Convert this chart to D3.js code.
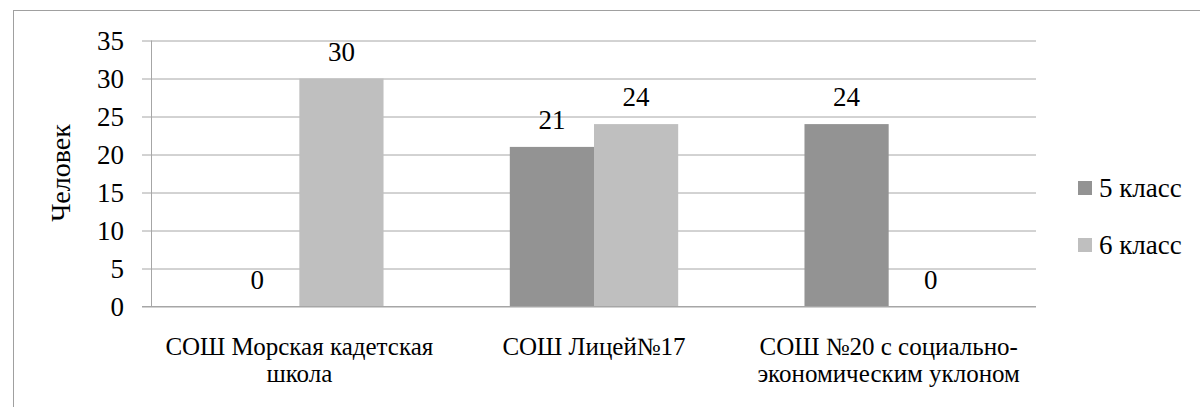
<!DOCTYPE html>
<html>
<head>
<meta charset="utf-8">
<script src="https://d3js.org/d3.v7.min.js"></script>
</head>
<body style="margin:0">
<svg id="chart" width="1200" height="407"></svg>
<script>
// Schools (line breaks mark how each label wraps)
const categories = [
  "СОШ Морская кадетская\nшкола",
  "СОШ Лицей№17",
  "СОШ №20 с  социально-\nэкономическим уклоном"
];
const seriesNames = ["5 класс", "6 класс"];
const grade5 = [0, 21, 24];
const grade6 = [30, 24, 0];
const yTicks = [0, 5, 10, 15, 20, 25, 30, 35];
const seriesColors = ["#939393", "#bfbfbf"];

const svg = d3.select("#chart");
const W = 1200, H = 407;

function styleText(sel, size) {
  return sel
    .style("font-family", "Tinos, 'Liberation Serif', FreeSerif, 'DejaVu Serif'")
    .style("font-size", size + "px")
    .attr("fill", "#000");
}

// Chart frame (runs off the right and bottom edges)
svg.append("rect")
  .attr("x", 13.5).attr("y", 10.5)
  .attr("width", W).attr("height", H)
  .attr("fill", "none").attr("stroke", "#a0a0a0").attr("stroke-width", 1);

const plot = { left: 152, right: 1036, top: 40.5, bottom: 306.5 };

const x0 = d3.scaleBand()
  .domain(d3.range(categories.length))
  .range([plot.left, plot.right])
  .paddingInner(0).paddingOuter(0);

const bw = x0.bandwidth();
const barW = bw / 3.5; // 150% gap between clusters
const x1 = d3.scaleBand()
  .domain(d3.range(seriesNames.length))
  .range([(bw - 2 * barW) / 2, (bw + 2 * barW) / 2]);

const y = d3.scaleLinear().domain([0, 35]).range([plot.bottom, plot.top]);

// Gridlines + tick labels via a left axis
const yAxis = d3.axisLeft(y)
  .tickValues(yTicks)
  .tickSize(-(plot.right - plot.left))
  .tickPadding(0)
  .tickFormat(d3.format("d"));

const gy = svg.append("g")
  .attr("transform", `translate(${plot.left},0)`)
  .call(yAxis);
gy.attr("font-family", null).attr("font-size", null);
gy.select(".domain").remove();
gy.selectAll(".tick line")
  .attr("x1", -10)
  .attr("stroke", "#a6a6a6");
styleText(gy.selectAll(".tick text"), 27)
  .attr("x", -28)
  .attr("dy", "0.34em");

// Vertical axis line
svg.append("line")
  .attr("x1", plot.left - 0.5).attr("x2", plot.left - 0.5)
  .attr("y1", plot.top).attr("y2", plot.bottom)
  .attr("stroke", "#a6a6a6");

// Bars
const series = [grade5, grade6];
const groups = svg.append("g");
series.forEach((vals, si) => {
  groups.selectAll(null)
    .data(vals)
    .join("rect")
    .attr("x", (d, i) => x0(i) + x1(si))
    .attr("y", d => y(d))
    .attr("width", x1.bandwidth())
    .attr("height", d => y(0) - y(d))
    .attr("fill", seriesColors[si]);
});

// Horizontal axis line at zero
svg.append("line")
  .attr("x1", plot.left - 10).attr("x2", plot.right)
  .attr("y1", y(0)).attr("y2", y(0))
  .attr("stroke", "#a6a6a6");

// Value labels above each bar
series.forEach((vals, si) => {
  styleText(svg.append("g").selectAll("text")
    .data(vals)
    .join("text"), 27)
    .attr("x", (d, i) => x0(i) + x1(si) + x1.bandwidth() / 2)
    .attr("y", d => y(d) - 18)
    .attr("text-anchor", "middle")
    .text(d => d);
});

// Category labels
const catG = svg.append("g");
categories.forEach((c, i) => {
  const t = styleText(catG.append("text"), 25)
    .attr("x", x0(i) + bw / 2)
    .attr("y", 355)
    .attr("text-anchor", "middle");
  c.split("\n").forEach((line, li) => {
    t.append("tspan")
      .attr("x", x0(i) + bw / 2)
      .attr("dy", li === 0 ? 0 : 27)
      .text(line);
  });
});

// Axis title
styleText(svg.append("text"), 28)
  .attr("transform", `translate(70,173) rotate(-90)`)
  .attr("text-anchor", "middle")
  .text("Человек");

// Legend
const legend = svg.append("g");
seriesNames.forEach((name, i) => {
  const cy = 188 + i * 57;
  legend.append("rect")
    .attr("x", 1078).attr("y", cy - 7)
    .attr("width", 14).attr("height", 14)
    .attr("fill", seriesColors[i]);
  styleText(legend.append("text"), 27)
    .attr("x", 1099).attr("y", cy)
    .attr("dy", "0.34em")
    .text(name);
});
</script>
</body>
</html>
